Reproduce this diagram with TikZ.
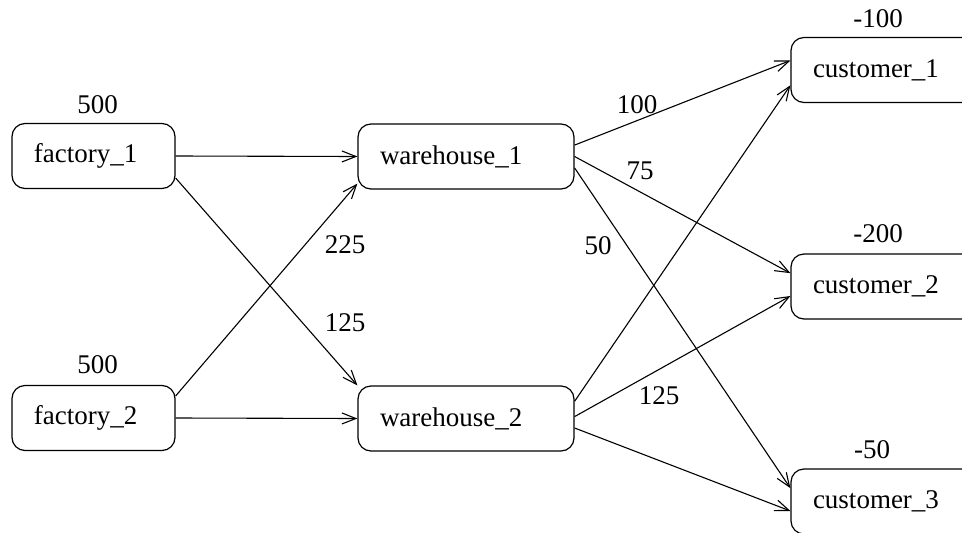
\documentclass[tikz,border=0pt]{standalone}
\usepackage{fontspec}
\setmainfont{Liberation Serif}
\usetikzlibrary{arrows.meta}
\begin{document}
\begin{tikzpicture}[x=1pt,y=-1pt,
  every node/.style={font=\fontsize{27}{32}\selectfont},
  boxnode/.style={draw,line width=1.2pt,rounded corners=13pt,minimum height=65pt,
    inner xsep=22pt,inner ysep=0pt,align=left},
  smallbox/.style={boxnode,text width=119pt},
  widebox/.style={boxnode,text width=172pt},
  numlabel/.style={inner sep=0pt},
  flow/.style={line width=1.1pt,-{Straight Barb[length=14pt,width=11pt,line width=1.1pt]}}]
\useasboundingbox (0,0) rectangle (962,533);
\clip (0,0) rectangle (962,533);
% nodes
\node[smallbox] (f1) at (93.5,156) {factory\_1};
\node[smallbox] (f2) at (93.5,418) {factory\_2};
\node[widebox] (w1) at (466,156.5) {warehouse\_1};
\node[widebox] (w2) at (466,418.5) {warehouse\_2};
\node[widebox] (c1) at (899,70) {customer\_1};
\node[widebox] (c2) at (899,286.5) {customer\_2};
\node[widebox] (c3) at (899,501.5) {customer\_3};
% supply / demand labels
\node[numlabel] (s1) at (97.5,105) {500};
\node[numlabel] (s2) at (97.5,365) {500};
\node[numlabel] (d1) at (878,19) {-100};
\node[numlabel] (d2) at (878,234) {-200};
\node[numlabel] (d3) at (872,450) {-50};
% connectors
\draw[flow] (f1.east) -- (w1.west);
\draw[flow] (f1.-15) -- (w2.north west);
\draw[flow] (f2.15) -- (w1.194.3);
\draw[flow] (f2.east) -- (w2.west);
\draw[flow] (w1.6.1) -- (c1.175.8);
\draw[flow] (w1.-0.8) -- (c2.173.9);
\draw[flow] (w1.-6.1) -- (c3.173.9);
\draw[flow] (w2.9.7) -- (c1.188.4);
\draw[flow] (w2.1.3) -- (c2.185.6);
\draw[flow] (w2.-5) -- (c3.185.6);
% flow labels
\node[numlabel] (l225) at (345,245) {225};
\node[numlabel] (l125a) at (345,323) {125};
\node[numlabel] (l100) at (637,105) {100};
\node[numlabel] (l75) at (640,171) {75};
\node[numlabel] (l50) at (598,246) {50};
\node[numlabel] (l125b) at (659,396) {125};
\end{tikzpicture}
\end{document}
